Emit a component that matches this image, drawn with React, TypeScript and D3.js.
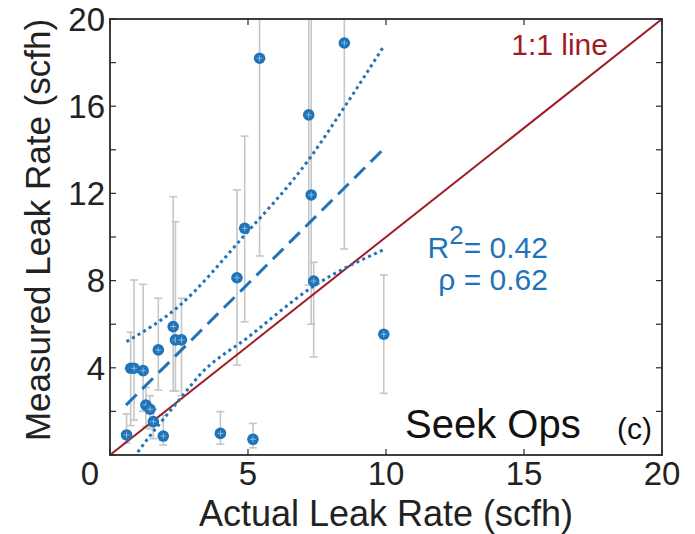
import React from 'react';
import * as d3 from 'd3';

const actual = [0.60, 0.75, 0.87, 1.20, 1.30, 1.45, 1.57, 1.75, 1.93, 2.29, 2.37, 2.59, 4.00, 4.60, 4.88, 5.18, 5.42, 7.20, 7.29, 7.38, 8.49, 9.92];
const measured = [0.92, 3.98, 3.98, 3.87, 2.29, 2.10, 1.53, 4.82, 0.87, 5.89, 5.28, 5.28, 0.99, 8.13, 10.40, 0.72, 18.20, 15.60, 11.93, 7.98, 18.90, 5.54];
const errLow = [0.55, 1.35, 1.60, 2.00, 1.30, 1.20, 0.75, 2.98, 0.46, 2.94, 2.94, 2.72, 0.50, 4.13, 6.11, 0.33, 9.13, 7.80, 6.00, 4.50, 9.45, 2.83];
const errHigh = [1.88, 5.63, 8.03, 7.83, 3.10, 2.72, 2.10, 7.19, 1.83, 11.85, 10.70, 7.19, 1.99, 12.16, 14.63, 1.45, 24, 24, 24, 8.84, 24, 8.26];

const fitX = [0.58, 9.94];
const fitY = [2.29, 14.07];
const upperX = [0.6, 2.47, 4.82, 7.23, 8.49, 9.92];
const upperY = [5.2, 6.8, 10.0, 13.6, 15.95, 18.75];
const lowerX = [0.6, 0.96, 2.65, 3.25, 5.0, 7.35, 9.88];
const lowerY = [-0.6, 0.05, 2.75, 3.67, 5.4, 7.72, 9.4];
const oneToOne = [0, 20];

const xTicks = [0, 5, 10, 15, 20];
const yTicks = [0, 2, 4, 6, 8, 10, 12, 14, 16, 18, 20];
const yLabels = [4, 8, 12, 16, 20];

const W = 695, H = 534;
const L = 110, R = 662, T = 19, B = 455;

export default function App() {
  const x = d3.scaleLinear().domain([0, 20]).range([L, R]);
  const y = d3.scaleLinear().domain([0, 20]).range([B, T]);
  const blue = '#1f74b9';
  const red = '#9e1d24';
  const axisCol = '#2b2b2b';
  const font = 'Liberation Sans, Arial, Helvetica, sans-serif';

  const line = d3.line<[number, number]>().x(d => x(d[0])).y(d => y(d[1]));
  const curve = d3.line<[number, number]>().x(d => x(d[0])).y(d => y(d[1])).curve(d3.curveMonotoneX);

  const upper = upperX.map((v, i) => [v, upperY[i]] as [number, number]);
  const lower = lowerX.map((v, i) => [v, lowerY[i]] as [number, number]);
  const fit = fitX.map((v, i) => [v, fitY[i]] as [number, number]);
  const diag = oneToOne.map(v => [v, v] as [number, number]);

  return (
    <svg width={W} height={H} style={{ position: 'absolute', left: 0, top: 0, display: 'block', background: '#fff' }} fontFamily={font}>
      <defs>
        <clipPath id="plot"><rect x={L} y={T} width={R - L} height={B - T} /></clipPath>
      </defs>
      <rect x={0} y={0} width={W} height={H} fill="#fff" />
      <g clipPath="url(#plot)">
        {actual.map((v, i) => (
          <g key={'e' + i} stroke="#c6c6c6" strokeWidth={1.6}>
            <line x1={x(v)} x2={x(v)} y1={y(errLow[i])} y2={y(errHigh[i])} />
            <line x1={x(v) - 4} x2={x(v) + 4} y1={y(errLow[i])} y2={y(errLow[i])} />
            <line x1={x(v) - 4} x2={x(v) + 4} y1={y(errHigh[i])} y2={y(errHigh[i])} />
          </g>
        ))}
        <path d={line(diag) || ''} stroke={red} strokeWidth={2} fill="none" />
        <path d={line(fit) || ''} stroke={blue} strokeWidth={3} fill="none" strokeDasharray="15,8" />
        <path d={curve(upper) || ''} stroke={blue} strokeWidth={3} fill="none" strokeDasharray="3,3.5" />
        <path d={curve(lower) || ''} stroke={blue} strokeWidth={3} fill="none" strokeDasharray="3,3.5" />
        {actual.map((v, i) => (
          <g key={'p' + i}>
            <circle cx={x(v)} cy={y(measured[i])} r={5.8} fill={blue} />
            <line x1={x(v) - 3} x2={x(v) + 3} y1={y(measured[i])} y2={y(measured[i])} stroke="#ffffff" strokeOpacity={0.45} strokeWidth={1} />
            <line x1={x(v)} x2={x(v)} y1={y(measured[i]) - 3} y2={y(measured[i]) + 3} stroke="#ffffff" strokeOpacity={0.45} strokeWidth={1} />
          </g>
        ))}
      </g>
      <rect x={L} y={T} width={R - L} height={B - T} fill="none" stroke={axisCol} strokeWidth={1.8} />
      {xTicks.map(t => (
        <g key={'xt' + t} stroke={axisCol} strokeWidth={1.2}>
          <line x1={x(t)} x2={x(t)} y1={B} y2={B - 6} />
          <line x1={x(t)} x2={x(t)} y1={T} y2={T + 6} />
        </g>
      ))}
      {yTicks.map(t => (
        <g key={'yt' + t} stroke={axisCol} strokeWidth={1.2}>
          <line x1={L} x2={L + 6} y1={y(t)} y2={y(t)} />
          <line x1={R} x2={R - 6} y1={y(t)} y2={y(t)} />
        </g>
      ))}
      {xTicks.map(t => (
        <text key={'xl' + t} x={x(t) + (t === 0 ? -20 : 0)} y={B + 30} fontSize={33} fill="#222" textAnchor="middle">{t}</text>
      ))}
      {yLabels.map(t => (
        <text key={'yl' + t} x={L - 5} y={y(t)} dy="0.36em" fontSize={33} fill="#222" textAnchor="end">{t}</text>
      ))}
      <text x={(L + R) / 2} y={526} fontSize={36} fill="#222" textAnchor="middle">Actual Leak Rate (scfh)</text>
      <text transform={`translate(50,230) rotate(-90)`} fontSize={35} fill="#222" textAnchor="middle">Measured Leak Rate (scfh)</text>
      <text x={608} y={55} fontSize={30} fill={red} textAnchor="end">1:1 line</text>
      <text x={548} y={258} fontSize={30} fill={blue} textAnchor="end">R<tspan dy={-14} fontSize={26}>2</tspan><tspan dy={14}>= 0.42</tspan></text>
      <text x={548} y={290} fontSize={30} fill={blue} textAnchor="end">ρ = 0.62</text>
      <text x={405} y={438} fontSize={40} fill="#111">Seek Ops</text>
      <text x={617} y={439} fontSize={30} fill="#111">(c)</text>
    </svg>
  );
}
